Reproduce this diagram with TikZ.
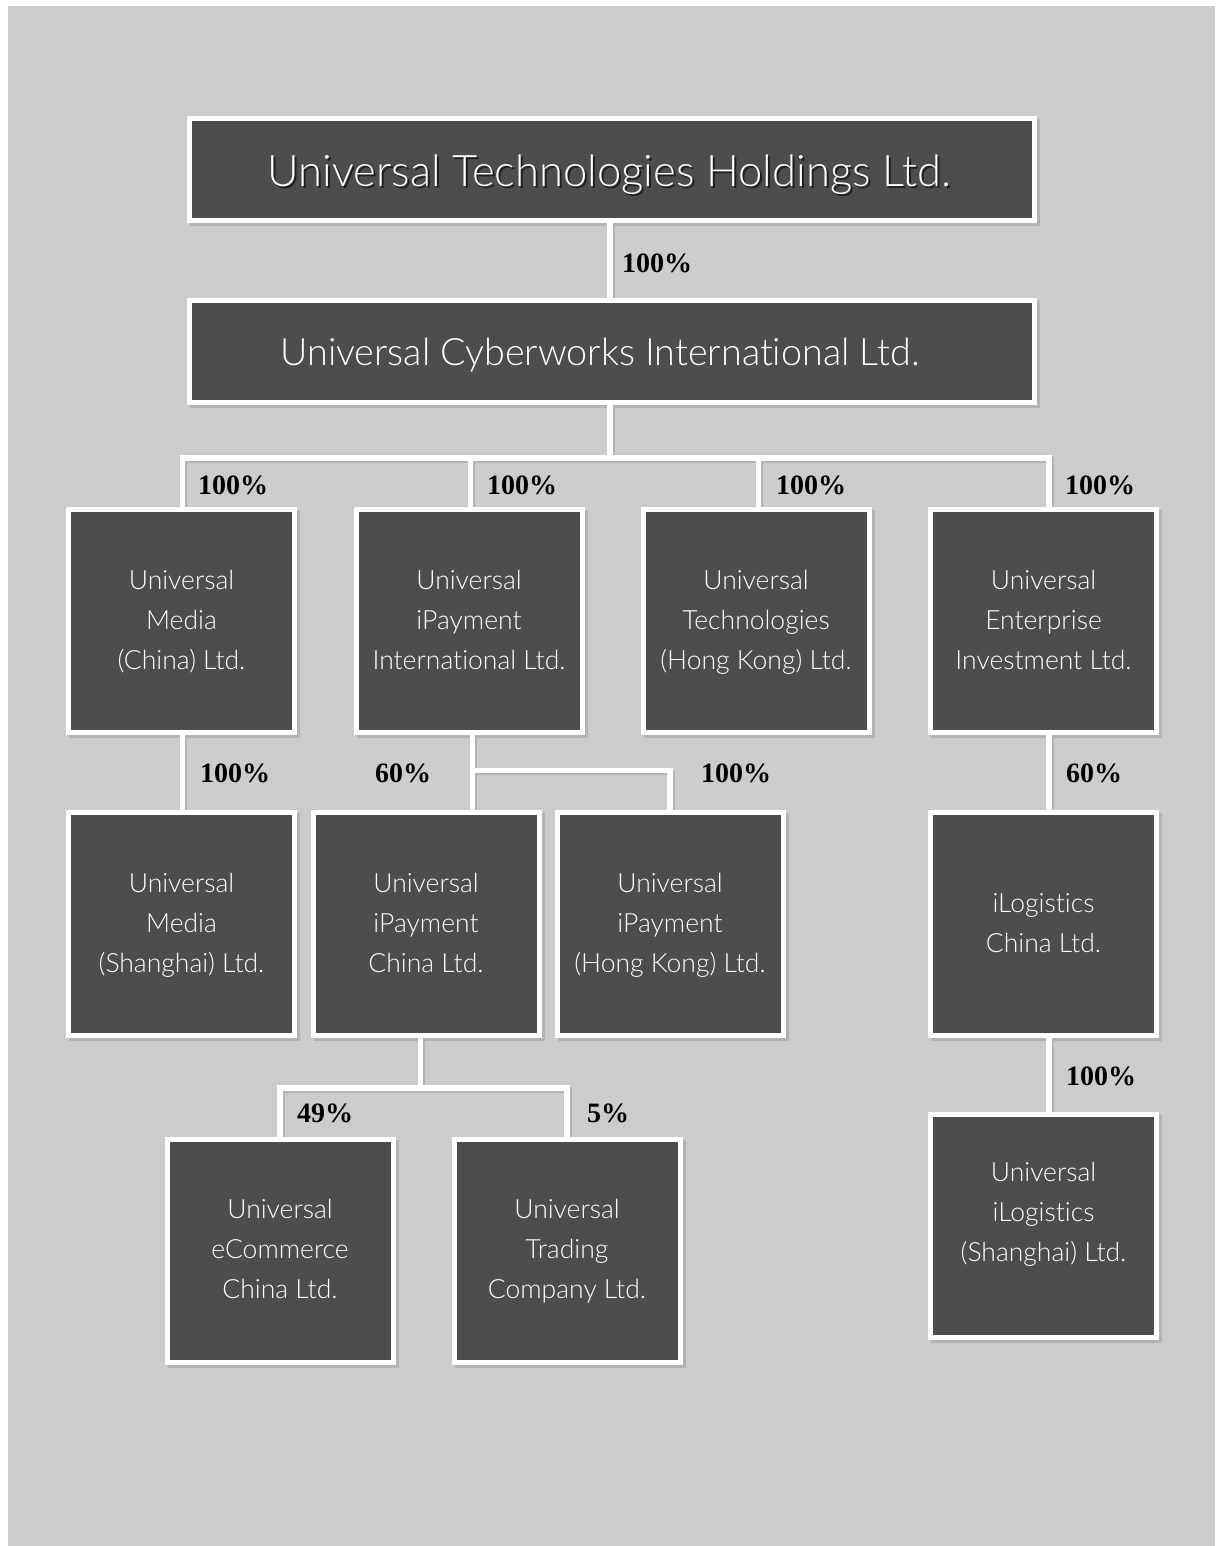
\documentclass[tikz,border=0pt]{standalone}
\usepackage{fontspec}
\setmainfont{Liberation Serif}
\newfontfamily\boxfont{Lato Light}[Ligatures=NoCommon]
\usetikzlibrary{backgrounds}
\definecolor{bgc}{HTML}{CCCCCC}
\definecolor{boxc}{HTML}{4D4D4D}
\definecolor{shc}{HTML}{B3B3B3}
\definecolor{txtsh}{HTML}{1E1E1E}
\newcommand\twolines[2]{\strut #1\\\strut #2}
\newcommand\threelines[3]{\strut #1\\\strut #2\\\strut #3}
\tikzset{
  box/.style={draw=white, line width=5pt, fill=boxc, minimum width=226pt, minimum height=223pt,
    inner sep=0pt, text=white, align=center, font=\boxfont\fontsize{26.5}{40}\selectfont},
  widebox/.style={box, minimum width=845pt, minimum height=102pt},
  titleA/.style={inner sep=0pt, text=white, font=\boxfont\fontsize{43.5}{48}\selectfont},
  titleB/.style={inner sep=0pt, text=white, font=\boxfont\fontsize{37.7}{42}\selectfont},
  boxtext/.style={inner sep=0pt, text=white, align=center, font=\boxfont\fontsize{26.5}{40}\selectfont},
  pct/.style={anchor=west, inner sep=0pt, font=\bfseries\fontsize{28}{28}\selectfont},
  boxshadow/.style={fill=shc},
}
\newcommand\allconnectors{%
  \draw (top.center -| cx) -- (cyber.center -| cx) -- (cx);
  \draw (m1.center -| bA) -- (bA) -- (bD) -- (m4.center -| bD);
  \draw (bB) -- (m2.center -| bB);
  \draw (bC) -- (m3.center -| bC);
  \draw (m1.center -| bA) -- (s1.center -| bA);
  \draw (m2.center -| bE) -- (ipc.center -| bE);
  \draw (bE) -| (iphk.center);
  \draw (m4.center -| bD) -- (ils.center -| bD);
  \draw (ipc.center -| bF) -- (bF);
  \draw (ec.center) |- (bF) -| (tr.center);
}
\begin{document}
\begin{tikzpicture}[x=1pt,y=-1pt]
\useasboundingbox (0,0) rectangle (1215,1546);

% coordinates of connector junctions
\coordinate (cx) at (610,458);
\coordinate (bA) at (182.5,458);
\coordinate (bB) at (470.5,458);
\coordinate (bC) at (758.5,458);
\coordinate (bD) at (1049,458);
\coordinate (bE) at (472.5,770.5);
\coordinate (bF) at (420.5,1088);

% boxes
\node[widebox] (top) at (612,170) {};
\node[widebox] (cyber) at (612,351.5) {};
\node[box] (m1) at (181.5,621) {\threelines{Universal}{Media}{(China) Ltd.}};
\node[box] (m2) at (469,621) {\threelines{Universal}{iPayment}{International Ltd.}};
\node[box] (m3) at (756,621) {\threelines{Universal}{Technologies}{(Hong Kong) Ltd.}};
\node[box] (m4) at (1043.5,621) {\threelines{Universal}{Enterprise}{Investment Ltd.}};
\node[box] (s1) at (181.5,924) {\threelines{Universal}{Media}{(Shanghai) Ltd.}};
\node[box] (ipc) at (426,924) {\threelines{Universal}{iPayment}{China Ltd.}};
\node[box] (iphk) at (670,924) {\threelines{Universal}{iPayment}{(Hong Kong) Ltd.}};
\node[box] (ilc) at (1043.5,924) {\twolines{iLogistics}{China Ltd.}};
\node[box] (ec) at (280,1250.5) {\threelines{Universal}{eCommerce}{China Ltd.}};
\node[box] (tr) at (567,1250.5) {\threelines{Universal}{Trading}{Company Ltd.}};
\node[box] (ils) at (1043.5,1226) {};
\node[boxtext] (ilstext) at ([shift={(0,-13)}]ils.center) {\threelines{Universal}{iLogistics}{(Shanghai) Ltd.}};

% titles
\node[titleA, text=txtsh] (topsh) at ([shift={(-0.5,7)}]top.center) {Universal Technologies Holdings Ltd.};
\node[titleA] (toptext) at ([shift={(-2.5,5)}]top.center) {Universal Technologies Holdings Ltd.};
\node[titleB] (cybertext) at ([shift={(-12,4)}]cyber.center) {Universal Cyberworks International Ltd.};

% percentages
\node[pct] (p0) at (622,263) {100\%};
\node[pct] (p1) at (198,485) {100\%};
\node[pct] (p2) at (487,485) {100\%};
\node[pct] (p3) at (776,485) {100\%};
\node[pct] (p4) at (1065,485) {100\%};
\node[pct] (p5) at (200,773) {100\%};
\node[pct] (p6) at (375,773) {60\%};
\node[pct] (p7) at (701,773) {100\%};
\node[pct] (p8) at (1066,773) {60\%};
\node[pct] (p9) at (1066,1076) {100\%};
\node[pct] (p10) at (297,1113) {49\%};
\node[pct] (p11) at (587,1113) {5\%};

\begin{pgfonlayer}{background}
  \fill[bgc] (8,6) rectangle (1215,1546);
  \foreach \n in {top,cyber,m1,m2,m3,m4,s1,ipc,iphk,ilc,ec,tr,ils}{
    \fill[boxshadow] ([shift={(3,3)}]\n.north west) rectangle ([shift={(3,3)}]\n.south east);
  }
  \begin{scope}[color=shc, line width=5.5pt, line join=miter, transform canvas={xshift=2pt,yshift=-2pt}]
    \allconnectors
  \end{scope}
  \begin{scope}[color=white, line width=5.5pt, line join=miter]
    \allconnectors
  \end{scope}
\end{pgfonlayer}
\end{tikzpicture}
\end{document}
